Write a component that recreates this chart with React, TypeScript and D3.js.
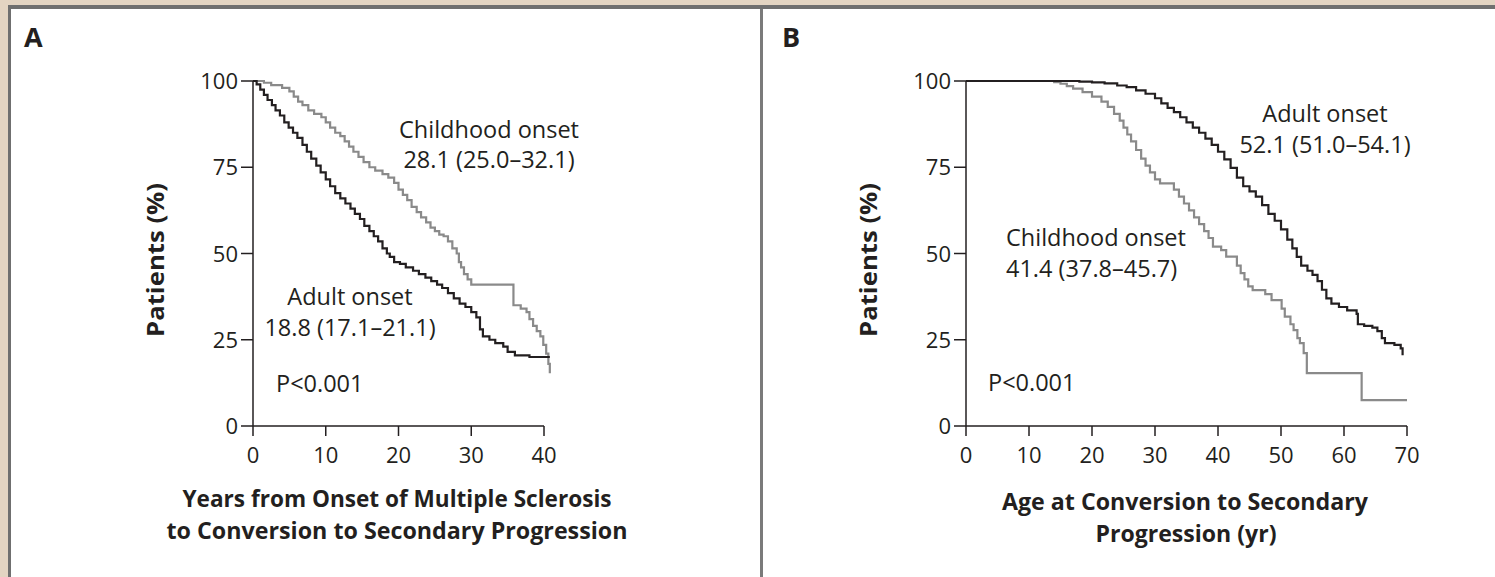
import React from "react";
import * as d3 from "d3";

// ---------- DATA ----------
const yTicks = [0, 25, 50, 75, 100];
const xTicksA = [0, 10, 20, 30, 40];
const xTicksB = [0, 10, 20, 30, 40, 50, 60, 70];

// Panel A: years from onset to secondary progression (Kaplan-Meier steps)
const aAdultT = [0, 0.5, 1.0, 1.5, 2.0, 2.6, 3.1, 3.7, 4.3, 4.9, 5.5, 6.1, 6.8, 7.4, 8.0, 8.7, 9.3, 10.0, 10.6, 11.3, 12.0, 12.7, 13.4, 14.0, 14.7, 15.3, 16.0, 16.6, 17.2, 17.8, 18.4, 18.8, 19.4, 20.2, 21.0, 22.0, 22.8, 23.7, 24.5, 25.3, 26.0, 26.8, 27.6, 28.4, 29.2, 30.0, 30.7, 31.2, 31.6, 32.5, 33.3, 34.4, 35.0, 36.0, 38.0, 40.8];
const aAdultS = [100, 99, 97.5, 96, 94.5, 93, 91.5, 90, 88, 86.5, 85, 83.5, 81.5, 79.5, 77.5, 75.5, 73.5, 71.5, 69.5, 67.5, 66, 64.5, 63, 61.5, 60, 58, 56.5, 55, 53.5, 51.5, 50, 49, 47.5, 47, 46, 45, 44, 43, 42, 41, 40, 38.5, 37, 35.5, 34.5, 33, 31.5, 28, 26, 25, 24, 23, 21.5, 20.5, 20, 20];

const aChildT = [0, 1.5, 2.5, 4.0, 5.0, 5.6, 6.2, 6.8, 7.6, 8.4, 9.4, 10.0, 10.6, 11.3, 12.0, 12.6, 13.2, 13.8, 14.5, 15.2, 16.0, 16.8, 17.8, 18.6, 19.4, 20.0, 20.6, 21.2, 21.8, 22.5, 23.1, 23.8, 24.4, 25.0, 25.6, 26.2, 26.8, 27.4, 28.0, 28.3, 28.6, 29.0, 29.5, 30.0, 35.8, 36.8, 37.6, 38.0, 38.5, 39.0, 39.5, 39.9, 40.3, 40.6, 40.8];
const aChildS = [100, 99.5, 98.8, 98, 97, 95.5, 94, 93, 91.5, 90.5, 89.5, 88, 86.5, 85, 84, 82.5, 81, 79.5, 78, 76.5, 75, 74, 73, 72, 70.5, 68.5, 67, 65.5, 63.5, 62, 60.5, 59, 57.5, 56.5, 55.5, 55, 53.5, 51.5, 50, 47.5, 46, 44, 42.5, 41, 35, 34, 33, 31, 29, 27.5, 26, 23.5, 21, 18, 15.3];

// Panel B: age at conversion to secondary progression
const bAdultT = [0, 18, 20, 22, 24, 25.5, 27, 28.5, 30, 31, 32, 33, 34, 35, 36, 37, 38, 39, 40, 41, 42, 43, 44, 45, 46, 47, 48, 49, 50, 51, 51.8, 52.5, 53.2, 54.2, 55, 55.8, 56.5, 57.2, 58, 59.2, 60.5, 62, 62.2, 63.2, 64.5, 65.3, 66, 66.5, 68, 69, 69.3];
const bAdultS = [100, 99.8, 99.6, 99.3, 98.7, 98.2, 97.3, 96.3, 95, 93.5, 92.2, 91, 89.5, 88, 86.5, 85, 83.3, 81.5, 79.5, 77.3, 74.8, 72, 69.5, 68, 66.5, 64, 61.5, 59.5, 57, 54, 51.5, 49, 46.5, 45, 43.8, 42, 39.5, 37, 35.5, 34.5, 33.5, 32.5, 29.5, 29, 28.5, 27.5, 25.5, 24, 23.5, 22.5, 20.5];

const bChildT = [0, 14, 15, 16, 17, 18.5, 20, 21.5, 22.5, 23.5, 24.4, 25, 25.6, 26.2, 27, 27.8, 28.5, 29.2, 30, 30.8, 33, 33.8, 34.6, 35.4, 36.2, 37, 37.8, 38.5, 39.2, 40.5, 41.3, 43, 43.6, 44.2, 44.8, 45.5, 47.5, 48.5, 50.1, 50.6, 51.5, 52, 52.6, 53, 53.6, 54.1, 62.8, 70];
const bChildS = [100, 99.7, 99.2, 98.5, 97.8, 96.8, 95.5, 94, 92.5, 90.5, 88.5, 86.5, 84.5, 82.5, 80, 77.5, 75.5, 73.5, 71.5, 70.3, 68.5, 66.5, 64.5, 62.5, 60.5, 58.5, 56.5, 54.5, 52, 51, 49.1, 46.5, 44.3, 42.5, 40.5, 39.4, 38.2, 36.5, 34, 31.7, 29.5, 27.8, 25.5, 24, 21.1, 15.3, 7.5, 7.5];

// ---------- STYLE ----------
const INK = "#231f20";
const GREY = "#8a8a8a";
const FONT = "'Open Sans', 'Noto Sans', sans-serif";

type Pt = [number, number];
const zip = (t: number[], s: number[]): Pt[] => t.map((v, i) => [v, s[i]]);

function Panel(props: {
  x0: number; x1: number; xMax: number; xTicks: number[];
  adult: Pt[]; child: Pt[];
}) {
  const { x0, x1, xMax, xTicks, adult, child } = props;
  const x = d3.scaleLinear().domain([0, xMax]).range([x0, x1]);
  const y = d3.scaleLinear().domain([0, 100]).range([426, 81]);
  const line = d3.line<Pt>().x(d => x(d[0])).y(d => y(d[1])).curve(d3.curveStepAfter);
  return (
    <g>
      <path d={line(child) || ""} fill="none" stroke={GREY} strokeWidth={2.2} />
      <path d={line(adult) || ""} fill="none" stroke={INK} strokeWidth={2.2} />
      <line x1={x0} x2={x0} y1={y(100)} y2={y(0)} stroke={INK} strokeWidth={1.5} />
      <line x1={x0} x2={x(xTicks[xTicks.length - 1])} y1={y(0)} y2={y(0)} stroke={INK} strokeWidth={1.5} />
      {yTicks.map(v => (
        <g key={"y" + v}>
          <line x1={x0 - 12} x2={x0} y1={y(v)} y2={y(v)} stroke={INK} strokeWidth={1.5} />
          <text x={x0 - 15} y={y(v) + 8} textAnchor="end" fontSize={22} fill={INK} fontFamily={FONT}>{v}</text>
        </g>
      ))}
      {xTicks.map(v => (
        <g key={"x" + v}>
          <line x1={x(v)} x2={x(v)} y1={y(0)} y2={y(0) + 10} stroke={INK} strokeWidth={1.5} />
          <text x={x(v)} y={463} textAnchor="middle" fontSize={22} fill={INK} fontFamily={FONT}>{v}</text>
        </g>
      ))}
    </g>
  );
}

export default function App() {
  const txt = (x: number, y: number, s: string, anchor: string = "middle") => (
    <text x={x} y={y} textAnchor={anchor as any} fontSize={23.5} fill={INK} fontFamily={FONT}>{s}</text>
  );
  const bold = (x: number, y: number, s: string, len: number) => (
    <text x={x} y={y} textAnchor="middle" fontSize={23} fontWeight={700} fill={INK} fontFamily={FONT}
      textLength={len} lengthAdjust="spacingAndGlyphs">{s}</text>
  );
  return (
    <svg width={1495} height={577} style={{ position: "absolute", left: 0, top: 0, display: "block" }}>
      <rect x={0} y={0} width={1495} height={577} fill="#e3d4c2" />
      <rect x={8} y={5} width={1487} height={572} fill="#6f6f6f" />
      <rect x={11} y={9} width={1484} height={568} fill="#ffffff" />
      <rect x={760} y={9} width={3} height={568} fill="#7a7a7a" />

      <text x={24} y={47} fontSize={27} fontWeight={700} fill={INK} fontFamily={FONT}>A</text>
      <text x={782} y={47} fontSize={27} fontWeight={700} fill={INK} fontFamily={FONT}>B</text>

      <Panel x0={253} x1={544} xMax={40} xTicks={xTicksA} adult={zip(aAdultT, aAdultS)} child={zip(aChildT, aChildS)} />
      <Panel x0={966} x1={1407} xMax={70} xTicks={xTicksB} adult={zip(bAdultT, bAdultS)} child={zip(bChildT, bChildS)} />

      <text transform="translate(164,260) rotate(-90)" textAnchor="middle" fontSize={23} fontWeight={700} fill={INK}
        fontFamily={FONT} textLength={154} lengthAdjust="spacingAndGlyphs">Patients (%)</text>
      <text transform="translate(877,260) rotate(-90)" textAnchor="middle" fontSize={23} fontWeight={700} fill={INK}
        fontFamily={FONT} textLength={154} lengthAdjust="spacingAndGlyphs">Patients (%)</text>

      {txt(489, 138, "Childhood onset")}
      {txt(489, 168, "28.1 (25.0–32.1)")}
      {txt(350, 305, "Adult onset")}
      {txt(350, 336, "18.8 (17.1–21.1)")}
      {txt(276, 392, "P<0.001", "start")}

      {txt(1325, 122, "Adult onset")}
      {txt(1325, 153, "52.1 (51.0–54.1)")}
      {txt(1006, 246, "Childhood onset", "start")}
      {txt(1006, 277, "41.4 (37.8–45.7)", "start")}
      {txt(988, 391, "P<0.001", "start")}

      {bold(397, 507, "Years from Onset of Multiple Sclerosis", 429)}
      {bold(397, 539, "to Conversion to Secondary Progression", 461)}
      {bold(1185, 510, "Age at Conversion to Secondary", 366)}
      {bold(1186, 542, "Progression (yr)", 181)}
    </svg>
  );
}
